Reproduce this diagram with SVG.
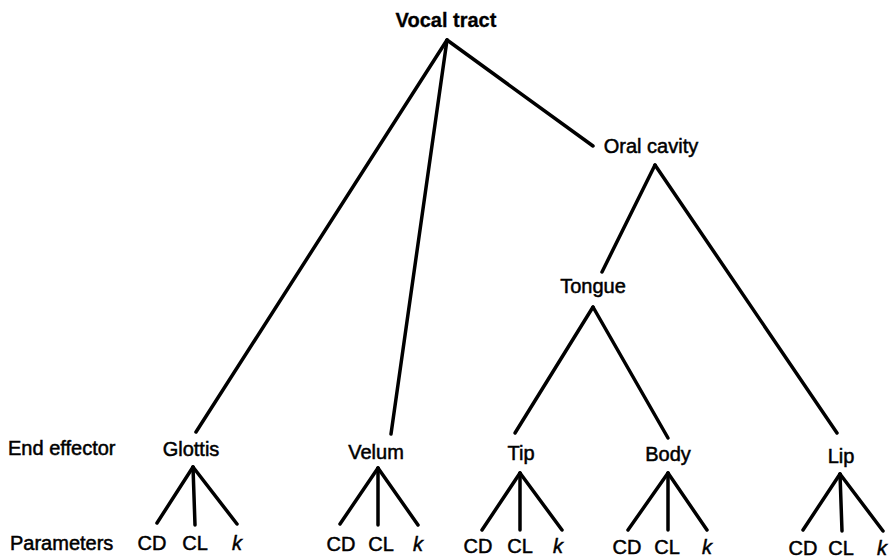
<svg xmlns="http://www.w3.org/2000/svg" width="892" height="560" viewBox="0 0 892 560">
<style>
text{font-family:"Liberation Sans",Arial,sans-serif;font-size:20px;fill:#000;stroke:#000;stroke-width:0.5;text-anchor:middle}
.b{font-weight:bold;stroke-width:0.3}
.l{text-anchor:start}
.i{font-style:italic}
#connectors line{stroke:#000;stroke-width:3.5;stroke-linecap:round}
</style>
<rect width="892" height="560" fill="#fff"/>
<g id="connectors">
<line x1="447" y1="40" x2="196" y2="432"/>
<line x1="447" y1="40" x2="391" y2="434"/>
<line x1="447" y1="40" x2="593" y2="146"/>
<line x1="655" y1="165" x2="602" y2="272"/>
<line x1="655" y1="165" x2="837" y2="433"/>
<line x1="593" y1="307" x2="515" y2="433"/>
<line x1="593" y1="307" x2="668" y2="438"/>
<line x1="193" y1="467" x2="157" y2="523"/>
<line x1="193" y1="467" x2="195" y2="525"/>
<line x1="193" y1="467" x2="237" y2="524"/>
<line x1="378" y1="468" x2="340" y2="524"/>
<line x1="378" y1="468" x2="378" y2="525"/>
<line x1="378" y1="468" x2="418" y2="525"/>
<line x1="520" y1="473" x2="482" y2="530"/>
<line x1="520" y1="473" x2="520" y2="530"/>
<line x1="520" y1="473" x2="562" y2="530"/>
<line x1="668" y1="473" x2="628" y2="530"/>
<line x1="668" y1="473" x2="668" y2="530"/>
<line x1="668" y1="473" x2="707" y2="530"/>
<line x1="840" y1="474" x2="803" y2="530"/>
<line x1="840" y1="474" x2="842" y2="531"/>
<line x1="840" y1="474" x2="883" y2="531"/>
</g>
<g id="vocal-tract"><text class="b" x="446" y="27">Vocal tract</text></g>
<g id="oral-cavity"><text x="651" y="153">Oral cavity</text></g>
<g id="tongue"><text x="593" y="293">Tongue</text></g>
<g id="row-labels">
<text class="l" x="8" y="455">End effector</text>
<text class="l" x="10" y="550">Parameters</text>
</g>
<g id="glottis">
<text x="191" y="456">Glottis</text>
<text x="152" y="550">CD</text><text x="195" y="550">CL</text><text class="i" x="237" y="550">k</text>
</g>
<g id="velum">
<text x="376" y="459">Velum</text>
<text x="341" y="551">CD</text><text x="381" y="551">CL</text><text class="i" x="418" y="551">k</text>
</g>
<g id="tip">
<text x="521" y="460">Tip</text>
<text x="478" y="553">CD</text><text x="520" y="553">CL</text><text class="i" x="558" y="553">k</text>
</g>
<g id="body">
<text x="668" y="461">Body</text>
<text x="627" y="554">CD</text><text x="667" y="554">CL</text><text class="i" x="707" y="554">k</text>
</g>
<g id="lip">
<text x="841" y="463">Lip</text>
<text x="803" y="555">CD</text><text x="841" y="555">CL</text><text class="i" x="882" y="555">k</text>
</g>
</svg>
